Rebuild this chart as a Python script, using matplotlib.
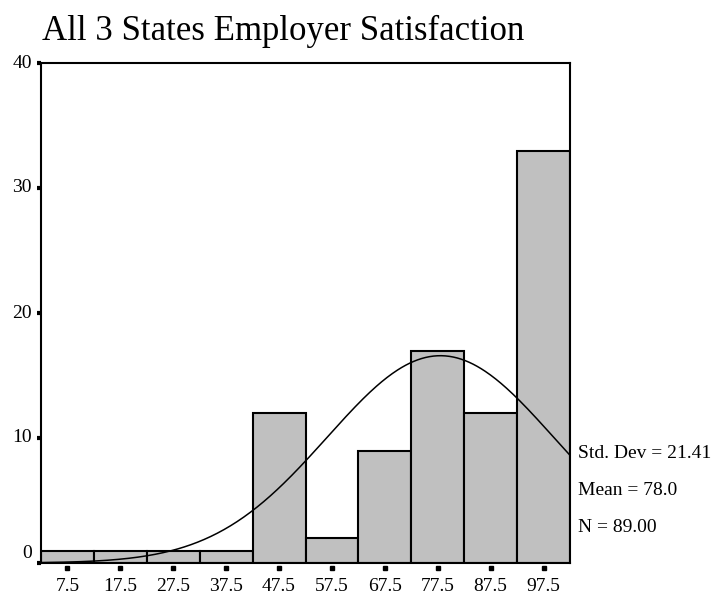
import numpy as np
import matplotlib
matplotlib.use("Agg")
import matplotlib.pyplot as plt
import matplotlib.transforms as mtransforms

bin_centers = [7.5, 17.5, 27.5, 37.5, 47.5, 57.5, 67.5, 77.5, 87.5, 97.5]
counts = [1, 1, 1, 1, 12, 2, 9, 17, 12, 33]
tick_labels = ["7.5", "17.5", "27.5", "37.5", "47.5", "57.5", "67.5", "77.5", "87.5", "97.5"]
y_ticks = [0, 10, 20, 30, 40]
std_dev = 21.41
mean = 78.0
n_total = 89.00
bin_width = 10.0
title = "All 3 States Employer Satisfaction"
stats_lines = ["Std. Dev = 21.41", "Mean = 78.0", "N = 89.00"]

plt.rcParams['font.family'] = ['Liberation Serif', 'DejaVu Serif']

fig = plt.figure(figsize=(7.14, 5.94), dpi=100)
ax = fig.add_axes([41/714, 1 - 563/594, (570-41)/714, (563-63)/594])

ax.bar(bin_centers, counts, width=bin_width, color="#c0c0c0", edgecolor="black", linewidth=1.5, zorder=2)

xs = np.linspace(bin_centers[0] - bin_width/2, bin_centers[-1] + bin_width/2, 400)
ys = n_total * bin_width / (std_dev * np.sqrt(2*np.pi)) * np.exp(-0.5 * ((xs - mean) / std_dev) ** 2)
ax.plot(xs, ys, color="black", linewidth=1.1, zorder=3)

ax.set_xlim(bin_centers[0] - bin_width/2, bin_centers[-1] + bin_width/2)
ax.set_ylim(0, 40)
ax.set_xticks(bin_centers)
ax.set_xticklabels(tick_labels, fontsize=14)
ax.set_yticks(y_ticks)
ax.set_yticklabels([])
ax.tick_params(axis='x', length=0, pad=11)
ax.tick_params(axis='y', direction='out', length=3, width=3)

# detached square tick marks below the x axis
tick_off = mtransforms.ScaledTranslation(0, -5/100, fig.dpi_scale_trans)
ax.plot(bin_centers, np.zeros(len(bin_centers)), linestyle='none', marker='s', markersize=3.2,
        color='black', transform=ax.transData + tick_off, clip_on=False, zorder=5)

ytrans = mtransforms.blended_transform_factory(ax.transAxes, ax.transData)
for v in y_ticks:
    off = mtransforms.ScaledTranslation(-9/100, (9/100 if v == 0 else 0), fig.dpi_scale_trans)
    ax.text(0, v, str(v), transform=ytrans + off, ha='right', va='center', fontsize=14)

for s in ax.spines.values():
    s.set_linewidth(1.5)
    s.set_color("black")

fig.text(42/714, 1 - 31/594, title, fontsize=25, va='center', ha='left')

for i, line in enumerate(stats_lines):
    fig.text(578/714, 1 - (453 + i*37.5)/594, line, fontsize=14, va='center', ha='left')

fig.savefig("out.png", dpi=100)
